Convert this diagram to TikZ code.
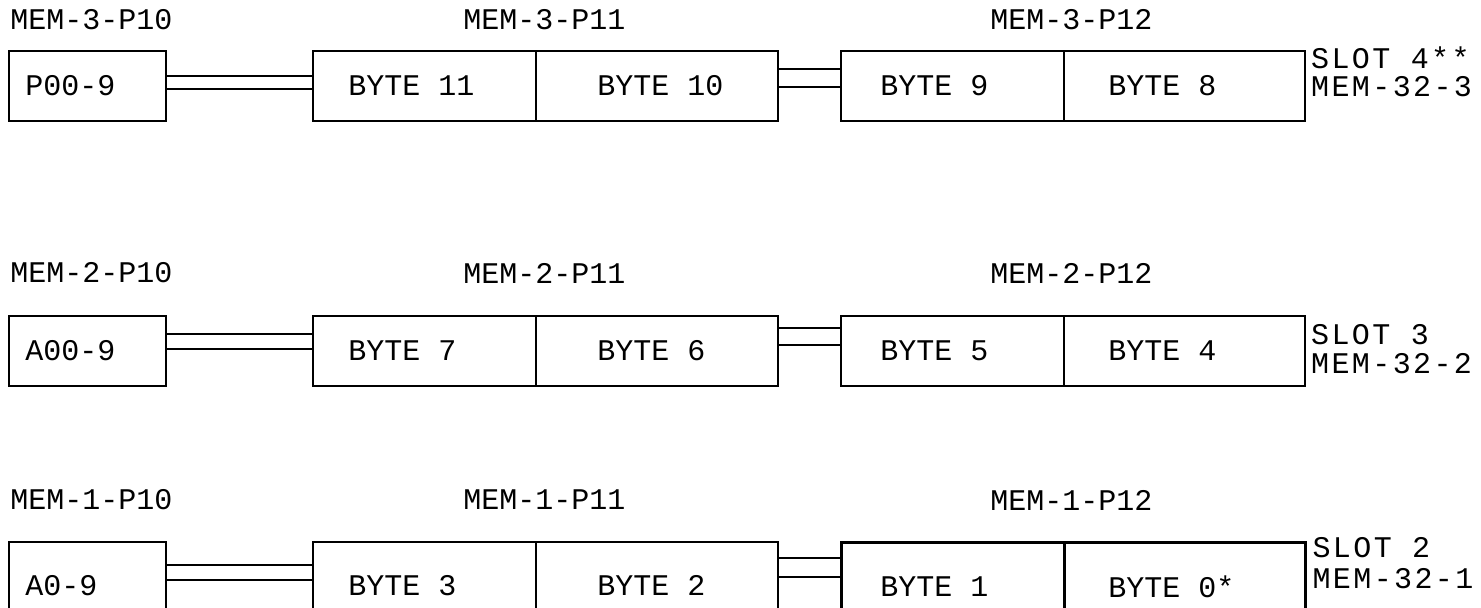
\documentclass[tikz,border=0pt]{standalone}
\usepackage{fontspec}
\setmainfont{Liberation Mono}
\usetikzlibrary{calc}
\tikzset{
  box/.style={draw, line width=0.9pt, inner sep=0pt, anchor=north west, minimum height=35pt},
  cbox/.style={},
  txt/.style={font=\fontsize{15}{15}\selectfont, inner sep=0pt, anchor=west},
  slottxt/.style={font=\fontsize{15}{15}\selectfont\addfontfeature{LetterSpace=8}, inner sep=0pt, anchor=west},
  wire/.style={line width=0.9pt},
}
% #1 top y, #2 row id, #3 A text, #4 B left, #5 B right, #6 C left, #7 C right, #8 slot line 1, #9 slot line 2
\newcommand\memrow[9]{%
  \node[box, minimum width=78.5pt] (A#2) at (8,#1) {};
  \node[box, minimum width=111.5pt] (BL#2) at (312,#1) {};
  \node[box, minimum width=121pt] (BR#2) at (535,#1) {};
  \node[box, cbox, minimum width=111.5pt] (CL#2) at (840,#1) {};
  \node[box, cbox, minimum width=120.5pt] (CR#2) at (1063,#1) {};
  \node[txt] (tA#2) at ($(A#2.west)+(17,\tdy)$) {#3};
  \node[txt] (tBL#2) at ($(BL#2.west)+(36,\tdy)$) {#4};
  \node[txt] (tBR#2) at ($(BR#2.west)+(62,\tdy)$) {#5};
  \node[txt] (tCL#2) at ($(CL#2.west)+(40,\tdy)$) {#6};
  \node[txt] (tCR#2) at ($(CR#2.west)+(45,\tdy)$) {#7};
  \node[slottxt] (s1#2) at ($(CR#2.north east)+(5,\sa)$) {#8};
  \node[slottxt] (s2#2) at ($(CR#2.north east)+(5,\sb)$) {#9};
  \node[txt] (lA#2) at ($(A#2.north west)+(2,\ldy)$) {MEM-#2-P10};
  \node[txt] (lB#2) at ($(BL#2.north west)+(151,\ldy)$) {MEM-#2-P11};
  \node[txt] (lC#2) at ($(CL#2.north west)+(150,\ldy)$) {MEM-#2-P12};
  \draw[wire] ($(A#2.north east)+(0,\aba)$) -- ($(BL#2.north west)+(0,\aba)$);
  \draw[wire] ($(A#2.north east)+(0,\abb)$) -- ($(BL#2.north west)+(0,\abb)$);
  \draw[wire] ($(BR#2.north east)+(0,\bca)$) -- ($(CL#2.north west)+(0,\bca)$);
  \draw[wire] ($(BR#2.north east)+(0,\bcb)$) -- ($(CL#2.north west)+(0,\bcb)$);
}
\begin{document}
\begin{tikzpicture}[x=0.5pt,y=-0.5pt]
\useasboundingbox (0,0) rectangle (1481,608);
% row 1 (top)
\def\tdy{0}\def\ldy{-30}\def\aba{26}\def\abb{39}\def\bca{19}\def\bcb{37}\def\sa{8}\def\sb{37}
\memrow{50}{3}{P00-9}{BYTE 11}{BYTE 10}{BYTE 9}{BYTE 8}{SLOT 4**}{MEM-32-3}
% row 2
\def\tdy{0}\def\ldy{-42}\def\aba{19}\def\abb{34}\def\bca{13}\def\bcb{30}\def\sa{20}\def\sb{49}
\memrow{315}{2}{A00-9}{BYTE 7}{BYTE 6}{BYTE 5}{BYTE 4}{SLOT 3}{MEM-32-2}
% row 3 (bottom)
\tikzset{cbox/.style={line width=1.6pt}}
\def\tdy{9}\def\ldy{-41}\def\aba{24}\def\abb{39}\def\bca{17}\def\bcb{36}\def\sa{7}\def\sb{38}
\memrow{541}{1}{A0-9}{BYTE 3}{BYTE 2}{BYTE 1}{BYTE 0*}{SLOT 2}{MEM-32-1}
\end{tikzpicture}
\end{document}
